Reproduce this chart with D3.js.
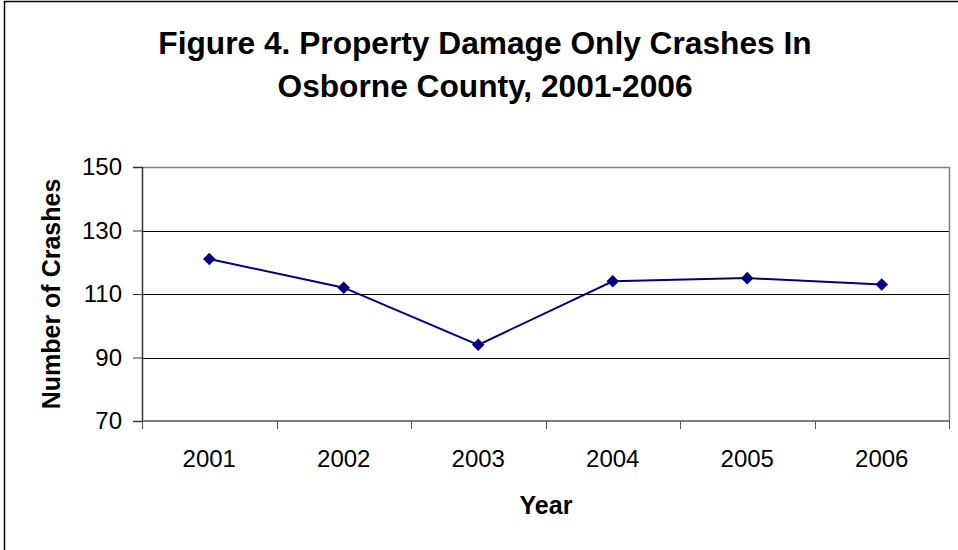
<!DOCTYPE html>
<html>
<head>
<meta charset="utf-8">
<script src="https://cdn.jsdelivr.net/npm/d3@7"></script>
<style>
  body { margin: 0; background: #fff; }
  text { font-family: "Liberation Sans", Arial, sans-serif; }
</style>
</head>
<body>
<div class="chart"></div>
<script>
var years = ["2001", "2002", "2003", "2004", "2005", "2006"];
var crashes = [121, 112, 94, 114, 115, 113];
var yTicks = [70, 90, 110, 130, 150];

var chartWidth = 958;
var chartHeight = 550;
var plotLeft = 142, plotRight = 949, plotTop = 167, plotBottom = 421;

var svg = d3.select(".chart")
  .append("svg")
  .attr("width", chartWidth)
  .attr("height", chartHeight);

// outer frame
svg.append("rect")
  .attr("x", 4.5).attr("y", 1.5)
  .attr("width", 960).attr("height", 560)
  .attr("fill", "none").attr("stroke", "#000").attr("stroke-width", 1.5);

var x = d3.scaleBand().domain(years).range([plotLeft, plotRight]);
var y = d3.scaleLinear().domain([70, 150]).range([plotBottom, plotTop]);

// gridlines
svg.selectAll(".grid")
  .data(yTicks.slice(1, -1))
  .enter()
  .append("line")
  .attr("x1", plotLeft).attr("x2", plotRight)
  .attr("y1", function(d) { return Math.round(y(d)) + 0.5; })
  .attr("y2", function(d) { return Math.round(y(d)) + 0.5; })
  .attr("stroke", "#000").attr("stroke-width", 1);

// plot border top / right
svg.append("path")
  .attr("d", "M" + plotLeft + "," + (plotTop + 0.5) + "H" + (plotRight + 0.5) + "V" + plotBottom)
  .attr("fill", "none").attr("stroke", "#808080").attr("stroke-width", 1.5);

// y axis
var yAxis = svg.append("g")
  .attr("transform", "translate(" + plotLeft + ",0)")
  .call(d3.axisLeft(y).tickValues(yTicks).tickSize(9).tickPadding(11));
yAxis.select(".domain").attr("stroke", "#333").attr("stroke-width", 1.5);
yAxis.selectAll(".tick line").attr("stroke", "#333");
yAxis.selectAll("text").attr("font-size", "24px").attr("fill", "#000")
  .attr("font-family", "'Liberation Sans', Arial, sans-serif");

// x axis with ticks between categories
var xTickPos = years.map(function(d) { return x(d); }).concat([plotRight]);
var xAxis = svg.append("g").attr("transform", "translate(0," + plotBottom + ")");
xAxis.append("line")
  .attr("x1", plotLeft).attr("x2", plotRight + 0.5)
  .attr("stroke", "#555").attr("stroke-width", 1.5);
xAxis.selectAll(".xtick")
  .data(xTickPos)
  .enter()
  .append("line")
  .attr("x1", function(d) { return Math.round(d) + 0.5; })
  .attr("x2", function(d) { return Math.round(d) + 0.5; })
  .attr("y1", 0).attr("y2", 8)
  .attr("stroke", "#555").attr("stroke-width", 1);
xAxis.selectAll(".xlabel")
  .data(years)
  .enter()
  .append("text")
  .attr("x", function(d) { return x(d) + x.bandwidth() / 2; })
  .attr("y", 46)
  .attr("text-anchor", "middle")
  .attr("font-size", "24px")
  .text(function(d) { return d; });

// line
var line = d3.line()
  .x(function(d, i) { return x(years[i]) + x.bandwidth() / 2; })
  .y(function(d) { return y(d); });

svg.append("path")
  .datum(crashes)
  .attr("d", line)
  .attr("fill", "none")
  .attr("stroke", "#000080")
  .attr("stroke-width", 2);

svg.selectAll(".marker")
  .data(crashes)
  .enter()
  .append("path")
  .attr("d", d3.symbol().type(d3.symbolDiamond2).size(100))
  .attr("transform", function(d, i) {
    return "translate(" + (x(years[i]) + x.bandwidth() / 2) + "," + y(d) + ")";
  })
  .attr("fill", "#000080");

// title
var title = ["Figure 4. Property Damage Only Crashes In", "Osborne County, 2001-2006"];
svg.selectAll(".title")
  .data(title)
  .enter()
  .append("text")
  .attr("x", 485)
  .attr("y", function(d, i) { return 54 + i * 43; })
  .attr("text-anchor", "middle")
  .attr("font-size", "31.7px")
  .attr("font-weight", "bold")
  .text(function(d) { return d; });

// axis titles
svg.append("text")
  .attr("x", 546).attr("y", 514)
  .attr("text-anchor", "middle")
  .attr("font-size", "25px").attr("font-weight", "bold")
  .text("Year");

svg.append("text")
  .attr("transform", "translate(60,294) rotate(-90)")
  .attr("text-anchor", "middle")
  .attr("font-size", "25px").attr("font-weight", "bold")
  .text("Number of Crashes");
</script>
</body>
</html>
